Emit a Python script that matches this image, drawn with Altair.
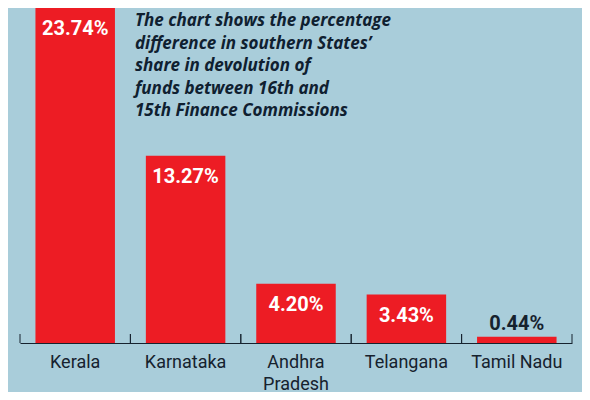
import altair as alt
import pandas as pd

states = ["Kerala", "Karnataka", "Andhra Pradesh", "Telangana", "Tamil Nadu"]
values = [23.74, 13.27, 4.20, 3.43, 0.44]
value_labels = ["23.74%", "13.27%", "4.20%", "3.43%", "0.44%"]
title_lines = [
    "The chart shows the percentage",
    "difference in southern States\u2019",
    "share in devolution of",
    "funds between 16th and",
    "15th Finance Commissions",
]

df = pd.DataFrame({"State": states, "Value": values, "Label": value_labels})

BG = "#a9cdda"
RED = "#ed1c24"
DARK = "#16222e"
PLOT_H = 335

xenc = alt.X(
    "State:N",
    sort=states,
    scale=alt.Scale(paddingInner=0, paddingOuter=0),
    axis=alt.Axis(
        title=None,
        ticks=False,
        labelAngle=0,
        labelFont="Roboto",
        labelFontSize=18,
        labelColor=DARK,
        labelPadding=10,
        labelLineHeight=22,
        labelExpr="datum.label == 'Andhra Pradesh' ? ['Andhra', 'Pradesh'] : datum.label",
        domainColor=DARK,
        domainWidth=1.2,
    ),
)
yenc = alt.Y("Value:Q", scale=alt.Scale(domain=[0, 23.74], nice=False), axis=None)

base = alt.Chart(df)

bars = base.mark_bar(color=RED, width=alt.RelativeBandSize(0.72)).encode(x=xenc, y=yenc)

inside = base.transform_filter("datum.Value > 1").mark_text(
    baseline="top", dy=11, color="white", fontWeight="bold", fontSize=20, font="Roboto"
).encode(x=alt.X("State:N", sort=states), y="Value:Q", text="Label:N")

above = base.transform_filter("datum.Value <= 1").mark_text(
    baseline="alphabetic", dy=-7, color=DARK, fontWeight="bold", fontSize=20, font="Roboto"
).encode(x=alt.X("State:N", sort=states), y="Value:Q", text="Label:N")

ticks_left = base.mark_rule(color=DARK, strokeWidth=1).encode(
    x=alt.X("State:N", sort=states, bandPosition=0),
    y=alt.datum(0),
    y2=alt.value(PLOT_H - 9),
)
ticks_right = base.mark_rule(color=DARK, strokeWidth=1).encode(
    x=alt.X("State:N", sort=states, bandPosition=1),
    y=alt.datum(0),
    y2=alt.value(PLOT_H - 9),
)

note = alt.Chart(pd.DataFrame({"k": [0]})).mark_text(
    align="left",
    baseline="alphabetic",
    font="Open Sans",
    fontSize=17,
    fontStyle="italic",
    fontWeight="bold",
    color="#0f2030",
    lineHeight=22.5,
).encode(x=alt.value(115), y=alt.value(18), text=alt.value(title_lines))

chart = (
    alt.layer(bars, inside, above, ticks_left, ticks_right, note)
    .properties(
        width=552,
        height=PLOT_H,
        background=BG,
        padding={"left": 12, "top": 0, "right": 10, "bottom": 384 - PLOT_H},
        autosize=alt.AutoSizeParams(type="none"),
    )
    .configure_view(stroke=None)
)

chart.save("out.html", embed_options={"renderer": "svg", "actions": False})
